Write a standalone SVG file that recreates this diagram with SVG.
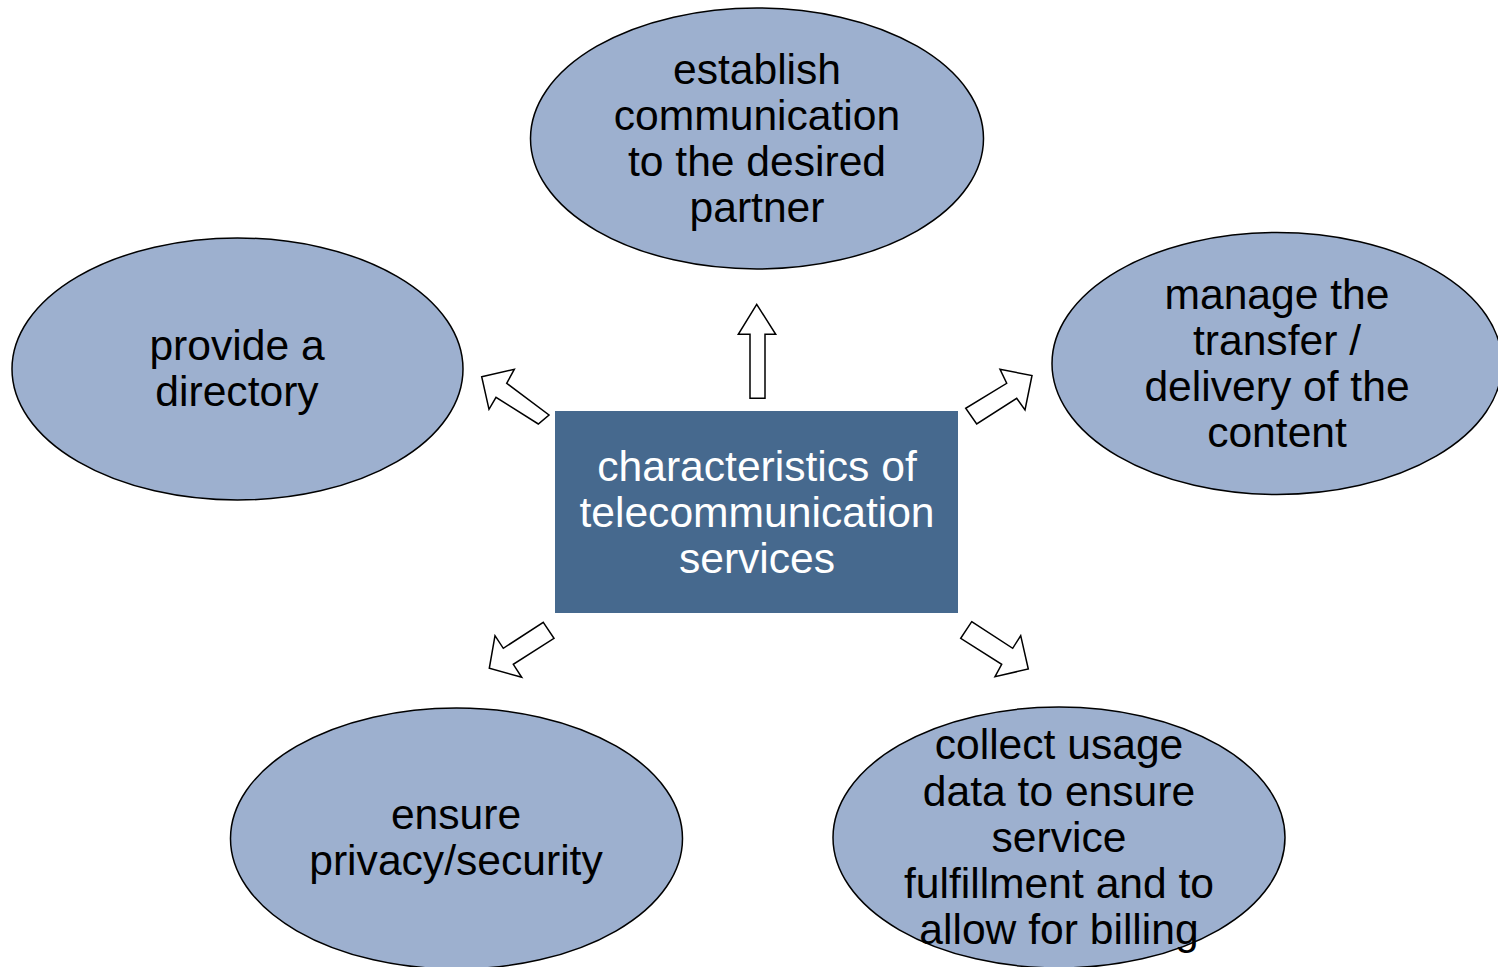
<svg xmlns="http://www.w3.org/2000/svg" width="1498" height="967" viewBox="0 0 1498 967">
<style>
.el{fill:#9db0cf;stroke:#000;stroke-width:1.5}
.ctr{fill:#46698e;stroke:none}
.t{font-family:"Liberation Sans",Arial,sans-serif;font-size:42.6px;text-anchor:middle;fill:#000}
.tw{fill:#fff}
.ar{fill:#fff;stroke:#000;stroke-width:1.5;stroke-linejoin:miter}
</style>
<rect width="1498" height="967" fill="#fff"/>
<g id="connectors">
<polygon class="ar" points="756.7,304.3 775.7,334.3 765,334.3 765,398.3 750,398.3 750,334.3 738.3,334.3"/>
<polygon class="ar" points="481.7,376.7 514.3,369.3 506.7,383.3 549,415 538.3,424 496,397.3 489,409.3"/>
<polygon class="ar" points="1032,375.5 1025,410 1016.7,398.3 976.7,424 965.7,408.3 1006.7,383.3 1000,369.3"/>
<polygon class="ar" points="543.3,622.3 554,638.3 513.3,664.3 521.7,677.3 489.3,668.3 495,635.7 503.3,648.3"/>
<polygon class="ar" points="971.7,621.7 1012.7,648.3 1020.7,635.7 1028.3,669 995,676.7 1001.7,664.3 960.7,638.3"/>
</g>
<g id="center">
<rect class="ctr" x="555" y="411" width="403" height="202"/>
<text class="t tw" x="757" y="481">characteristics of</text>
<text class="t tw" x="757" y="527">telecommunication</text>
<text class="t tw" x="757" y="573">services</text>
</g>
<g id="top">
<ellipse class="el" cx="757" cy="138.5" rx="226.5" ry="130.5"/>
<text class="t" x="757" y="84">establish</text>
<text class="t" x="757" y="130">communication</text>
<text class="t" x="757" y="176">to the desired</text>
<text class="t" x="757" y="222">partner</text>
</g>
<g id="left">
<ellipse class="el" cx="237.5" cy="369" rx="225.5" ry="131"/>
<text class="t" x="237" y="360">provide a</text>
<text class="t" x="237" y="406">directory</text>
</g>
<g id="right">
<ellipse class="el" cx="1277" cy="363.5" rx="225" ry="131"/>
<text class="t" x="1277" y="309">manage the</text>
<text class="t" x="1277" y="355">transfer /</text>
<text class="t" x="1277" y="401">delivery of the</text>
<text class="t" x="1277" y="447">content</text>
</g>
<g id="bottom-left">
<ellipse class="el" cx="456.5" cy="838.5" rx="226" ry="130.5"/>
<text class="t" x="456" y="829">ensure</text>
<text class="t" x="456" y="875">privacy/security</text>
</g>
<g id="bottom-right">
<ellipse class="el" cx="1059" cy="837.5" rx="226" ry="130.5"/>
<text class="t" x="1059" y="759">collect usage</text>
<text class="t" x="1059" y="806">data to ensure</text>
<text class="t" x="1059" y="852">service</text>
<text class="t" x="1059" y="898">fulfillment and to</text>
<text class="t" x="1059" y="944">allow for billing</text>
</g>
</svg>
